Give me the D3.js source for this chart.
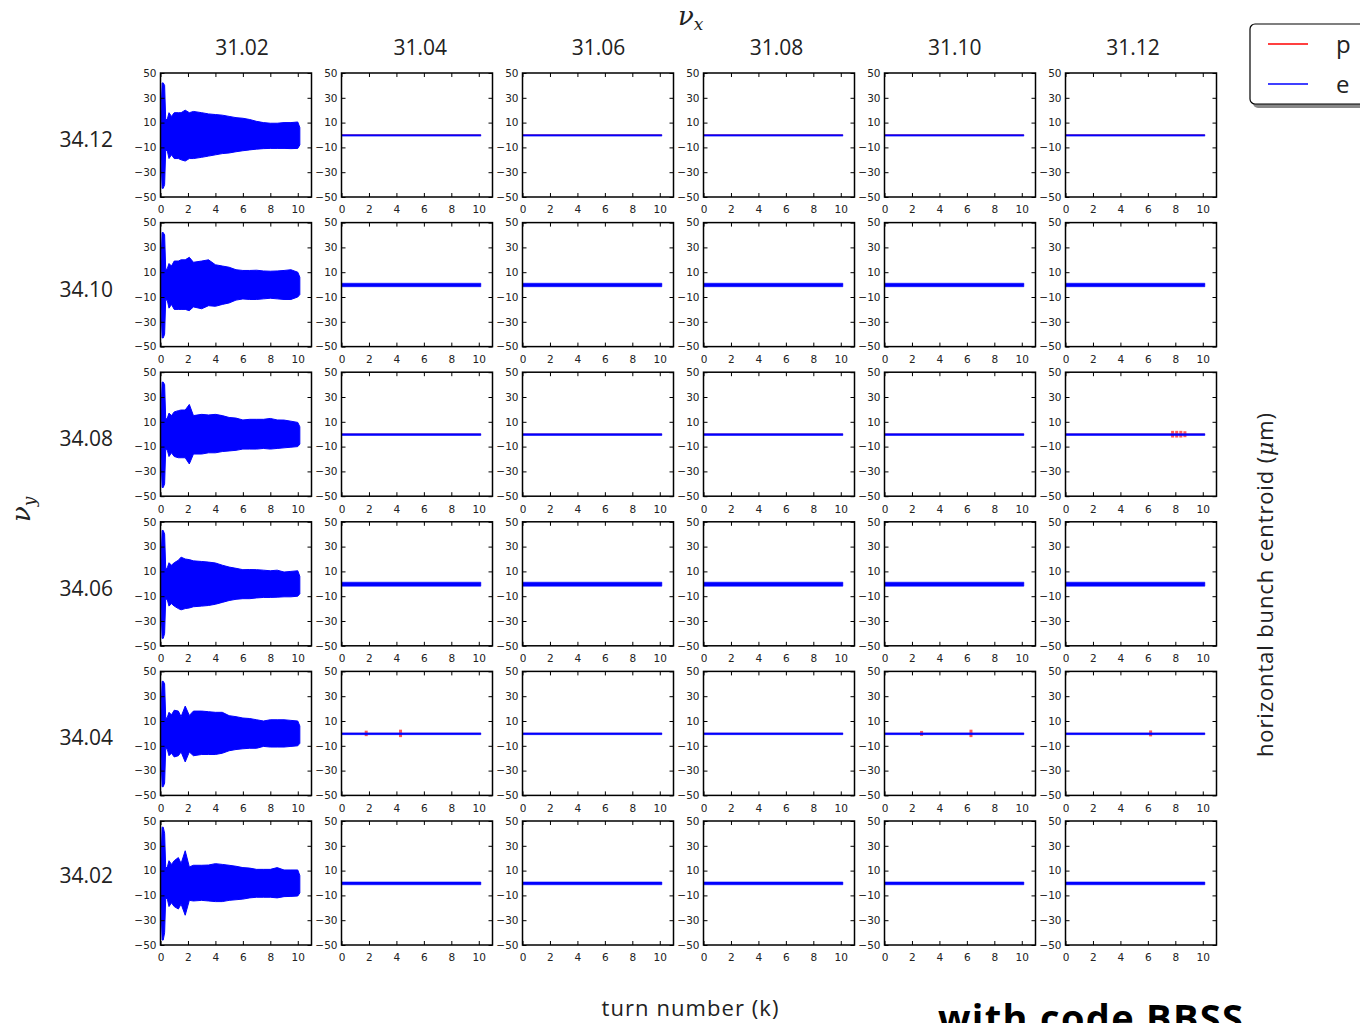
<!DOCTYPE html>
<meta charset="utf-8">
<style>

body {
  margin: 0;
  background: #fff;
}

.tick text {
  font: 10.5px "DejaVu Sans", sans-serif;
  fill: #222;
}

.tick line {
  stroke: #000;
  stroke-width: 1;
}

.label {
  font-family: "Open Sans", sans-serif;
  fill: #222;
}

</style>
<body>
<script src="https://cdn.jsdelivr.net/npm/d3@7"></script>
<script>

// tunes along each axis
const nuX = ["31.02", "31.04", "31.06", "31.08", "31.10", "31.12"];
const nuY = ["34.12", "34.10", "34.08", "34.06", "34.04", "34.02"];

const xTicks = [0, 2, 4, 6, 8, 10];
const yTicks = [-50, -30, -10, 10, 30, 50];

// envelope of the e centroid in the first column (31.02)
const turns = [0, 0.12, 0.2, 0.3, 0.38, 0.5, 0.62, 0.8, 1.0, 1.3, 1.5, 1.8, 2.1, 2.4, 3, 3.5, 4, 4.5, 5, 5.5, 6, 6.5, 7, 7.5, 8, 8.5, 9, 9.5, 10, 10.15];

const envUpper = [
  [8, 42, 42, 40, 12, 13, 18, 15, 18, 18, 18, 20, 18, 19, 18, 17, 16.5, 16, 15, 14, 13.5, 12.5, 11, 10, 9.5, 9.5, 10, 10, 10.5, 6],
  [8, 42, 42, 40, 12, 13, 17, 15, 19, 19, 20, 20, 22, 18, 19, 20, 16, 15, 14, 12, 11.4, 11.4, 11.6, 11, 10.8, 11, 11.4, 12, 10, 6],
  [8, 42, 42, 40, 12, 13, 17, 15, 18, 19, 19.5, 19.5, 24, 15, 16, 15.5, 16, 15, 13.5, 13, 11.5, 12, 12, 12, 12.7, 11.5, 11.4, 10.5, 9.5, 6],
  [8, 43, 43, 40, 12, 13, 17, 15, 17, 19, 21.5, 20, 19.5, 18.5, 18, 17.5, 16.8, 15, 13.5, 12.5, 11.4, 11.5, 11.4, 11, 10.5, 11, 9.5, 10, 10.5, 6],
  [8, 42, 42, 40, 12, 13, 17, 15, 18.7, 18, 13.5, 22, 14.5, 18, 18, 17.5, 17, 17, 14.3, 13.5, 12.4, 12, 11, 10, 11, 11, 11, 10.5, 10, 6],
  [8, 45, 45, 40, 12, 13, 18, 15, 18, 20.5, 15.8, 26, 13, 14.3, 14.3, 14.5, 15.6, 15, 14.3, 13.5, 12.4, 12, 11, 11, 11, 12.4, 10.5, 10.5, 10.5, 6]
];

const envLower = [
  [-8, -43, -43, -40, -12, -13, -19, -16, -19, -19, -20, -21, -19, -19, -18, -17, -16, -15, -14.5, -13.5, -12.7, -12, -11.4, -11, -10.8, -10.8, -10.8, -11, -10.8, -8],
  [-8, -43, -43, -40, -12, -13, -19, -16, -20, -20, -20, -20, -21, -18, -19.5, -17, -17.5, -16, -14.8, -12.5, -11.6, -12, -12, -11.5, -11, -11.5, -12, -12, -10, -8],
  [-8, -43, -43, -40, -12, -13, -18, -15, -18, -19, -19, -19, -24, -16, -16, -15, -15, -14, -13.5, -13, -12, -12, -12, -11.5, -12, -11.5, -11, -10.5, -10, -8],
  [-8, -44, -44, -40, -12, -13, -18, -16, -18, -20, -21, -20, -19.5, -18.5, -18, -17.5, -16.5, -15, -13.5, -12.5, -12, -12, -11.4, -11, -11, -10.8, -10.5, -10.5, -10, -8],
  [-8, -43, -43, -40, -12, -13, -18, -16, -19, -18, -15, -23, -15, -18, -17, -17, -17, -16, -14, -13, -12.4, -12, -12, -10.5, -11, -11, -11, -10.5, -10, -8],
  [-8, -46, -46, -40, -12, -13, -19, -16, -19, -21, -17, -26, -14, -14.5, -14, -14.5, -15, -15, -14, -13.5, -13, -12, -11.5, -11.5, -11.5, -12, -11, -10.8, -10.5, -8]
];

// residual e oscillation (um) in the other columns, one value per row
const eResidual = [0.6, 1.4, 0.7, 1.6, 0.7, 1.1];
const eEnd = 10.15;

// visible p excursions: [row, col, turn, height]
const pBumps = [
  [2, 5, 7.8, 1.5], [2, 5, 8.1, 1.5], [2, 5, 8.4, 1.5], [2, 5, 8.7, 1.2],
  [4, 1, 1.8, 1.0], [4, 1, 4.3, 1.8],
  [4, 4, 6.3, 1.8], [4, 4, 2.7, 0.8],
  [4, 5, 6.2, 1.2]
];

const width = 1360, height = 1023;
const pw = 151, ph = 124;
const left0 = 160.5, top0 = 73;
const dx = 181, dy = 149.6;

const svg = d3.select("body").append("svg")
    .attr("width", width)
    .attr("height", height);

const x = d3.scaleLinear().domain([0, 11]).range([0, pw]);
const y = d3.scaleLinear().domain([-50, 50]).range([ph, 0]);
const fmt = d => d < 0 ? "\u2212" + Math.abs(d) : d;

const area = d3.area()
    .x(d => x(d[0]))
    .y0(d => y(d[2]))
    .y1(d => y(d[1]));

nuY.forEach((ry, r) => {
  nuX.forEach((cx, c) => {
    const g = svg.append("g")
        .attr("transform", `translate(${left0 + c * dx},${top0 + r * dy})`);

    g.append("defs").append("clipPath")
        .attr("id", `clip${r}${c}`)
      .append("rect")
        .attr("width", pw)
        .attr("height", ph);

    const plot = g.append("g").attr("clip-path", `url(#clip${r}${c})`);

    if (c === 0) {
      const env = turns.map((t, i) => [t, envUpper[r][i], envLower[r][i]]);
      plot.append("path")
          .datum(env)
          .attr("fill", "#0000ff")
          .attr("stroke", "#0000ff")
          .attr("stroke-width", 1)
          .attr("d", area);
    } else {
      // p underneath
      plot.append("line")
          .attr("x1", x(0)).attr("x2", x(eEnd))
          .attr("y1", y(0)).attr("y2", y(0))
          .attr("stroke", "#ff0000")
          .attr("stroke-width", 1);
      plot.selectAll(".pb")
        .data(pBumps.filter(b => b[0] === r && b[1] === c))
        .join("rect")
          .attr("x", b => x(b[2]) - 1.5)
          .attr("width", 3)
          .attr("y", b => y(b[3] + 1.2))
          .attr("height", b => y(-b[3] - 1.2) - y(b[3] + 1.2))
          .attr("fill", "#ff3030")
          .attr("opacity", 0.8);
      const a = eResidual[r];
      plot.append("path")
          .datum([[0, a - 0.3, -a - 0.3], [eEnd, a - 0.3, -a - 0.3]])
          .attr("fill", "#0000ff")
          .attr("stroke", "#0000ff")
          .attr("stroke-width", 0.6)
          .attr("d", area);
    }

    // inward ticks on all four sides
    g.append("g")
        .call(d3.axisLeft(y).tickValues(yTicks).tickSize(-4).tickPadding(4).tickFormat(fmt))
        .call(s => s.select(".domain").remove());
    g.append("g")
        .attr("transform", `translate(${pw},0)`)
        .call(d3.axisRight(y).tickValues(yTicks).tickSize(-4).tickFormat(""))
        .call(s => s.select(".domain").remove());
    g.append("g")
        .attr("transform", `translate(0,${ph})`)
        .call(d3.axisBottom(x).tickValues(xTicks).tickSize(-4).tickPadding(9))
        .call(s => s.select(".domain").remove());
    g.append("g")
        .call(d3.axisTop(x).tickValues(xTicks).tickSize(-4).tickFormat(""))
        .call(s => s.select(".domain").remove());

    g.append("rect")
        .attr("width", pw)
        .attr("height", ph)
        .attr("fill", "none")
        .attr("stroke", "#000")
        .attr("stroke-width", 1.5);

    if (r === 0) {
      svg.append("text")
          .attr("class", "label")
          .attr("x", 242 + c * 178.2)
          .attr("y", 55)
          .attr("text-anchor", "middle")
          .attr("font-size", 21)
          .text(cx);
    }
  });

  // the bottom row label sits a little higher in the original
  const ly = r < nuY.length - 1 ? top0 + r * dy + ph / 2 + 12 : 883;
  svg.append("text")
      .attr("class", "label")
      .attr("x", 113)
      .attr("y", ly)
      .attr("text-anchor", "end")
      .attr("font-size", 21)
      .text(ry);
});

// axis titles
const nux = svg.append("text")
    .attr("x", 678)
    .attr("y", 25)
    .attr("font-family", "DejaVu Serif, serif")
    .attr("font-style", "italic")
    .attr("font-size", 26)
    .attr("fill", "#222");
nux.append("tspan").text("\u03bd");
nux.append("tspan").attr("font-size", 17).attr("dy", 5).text("x");

const nuy = svg.append("text")
    .attr("transform", "translate(30,522) rotate(-90)")
    .attr("font-family", "DejaVu Serif, serif")
    .attr("font-style", "italic")
    .attr("font-size", 26)
    .attr("fill", "#222");
nuy.append("tspan").text("\u03bd");
nuy.append("tspan").attr("font-size", 17).attr("dy", 5).text("y");

svg.append("text")
    .attr("class", "label")
    .attr("x", 690)
    .attr("y", 1016)
    .attr("text-anchor", "middle")
    .attr("font-size", 22)
    .attr("textLength", 177)
    .text("turn number (k)");

const yl = svg.append("text")
    .attr("class", "label")
    .attr("transform", "translate(1273,585) rotate(-90)")
    .attr("text-anchor", "middle")
    .attr("font-size", 22)
    .attr("textLength", 344);
yl.append("tspan").text("horizontal bunch centroid (");
yl.append("tspan").attr("font-family", "DejaVu Serif, serif").attr("font-style", "italic").text("\u03bc");
yl.append("tspan").text("m)");

svg.append("text")
    .attr("x", 938)
    .attr("y", 1032)
    .attr("font-family", "Open Sans, sans-serif")
    .attr("font-weight", "bold")
    .attr("font-size", 38)
    .attr("textLength", 305)
    .attr("fill", "#000")
    .text("with code BBSS");

// legend
const legend = svg.append("g").attr("transform", "translate(1250,24)");
legend.append("rect")
    .attr("x", 3).attr("y", 4)
    .attr("width", 130).attr("height", 80)
    .attr("rx", 5)
    .attr("fill", "#888");
legend.append("rect")
    .attr("width", 130).attr("height", 80)
    .attr("rx", 5)
    .attr("fill", "#fff")
    .attr("stroke", "#000")
    .attr("stroke-width", 1.2);
[["p", "#ff0000"], ["e", "#0000ff"]].forEach(([k, col], i) => {
  legend.append("line")
      .attr("x1", 18).attr("x2", 58)
      .attr("y1", 20 + i * 40).attr("y2", 20 + i * 40)
      .attr("stroke", col)
      .attr("stroke-width", 1.5);
  legend.append("text")
      .attr("class", "label")
      .attr("x", 86)
      .attr("y", 29 + i * 40)
      .attr("font-size", 24)
      .text(k);
});

</script>
